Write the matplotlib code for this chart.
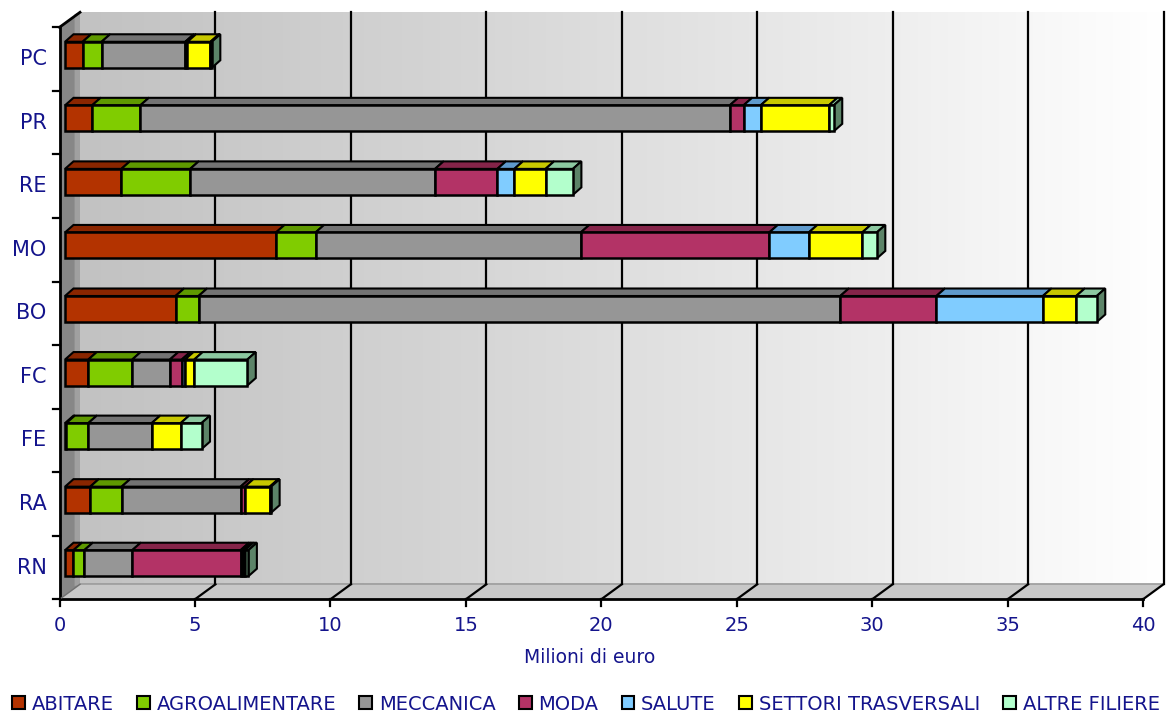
import matplotlib
matplotlib.use("Agg")
import matplotlib.pyplot as plt
import numpy as np
from matplotlib.patches import Polygon, Patch
from matplotlib.colors import LinearSegmentedColormap

# ---------------- data ----------------
categories = ["RN", "RA", "FE", "FC", "BO", "MO", "RE", "PR", "PC"]
series = ["ABITARE", "AGROALIMENTARE", "MECCANICA", "MODA", "SALUTE",
          "SETTORI TRASVERSALI", "ALTRE FILIERE"]
abitare   = [0.31, 0.93, 0.05, 0.86, 4.08, 7.79, 2.08, 1.00, 0.65]
agro      = [0.40, 1.16, 0.81, 1.62, 0.85, 1.46, 2.54, 1.78, 0.70]
meccanica = [1.77, 4.39, 2.34, 1.39, 23.69, 9.79, 9.04, 21.76, 3.09]
moda      = [4.00, 0.16, 0.00, 0.44, 3.55, 6.96, 2.30, 0.51, 0.08]
salute    = [0.08, 0.00, 0.00, 0.12, 3.93, 1.46, 0.63, 0.63, 0.00]
settori   = [0.08, 0.92, 1.07, 0.34, 1.23, 1.97, 1.15, 2.52, 0.85]
altre     = [0.13, 0.05, 0.77, 1.96, 0.76, 0.54, 1.01, 0.18, 0.05]
xticks = [0, 5, 10, 15, 20, 25, 30, 35, 40]
xlabel = "Milioni di euro"

values = [abitare, agro, meccanica, moda, salute, settori, altre]
front_cols = ["#B33300", "#80CC00", "#969696", "#B33366", "#80CCFF", "#FFFF00", "#B3FFCC"]
top_cols   = ["#8A2600", "#5F9900", "#737373", "#852449", "#5F9ACC", "#C8C800", "#8CC8A0"]
side_col = "#5C8468"
txt_col = "#14148C"

# ---------------- figure / axes geometry ----------------
W, H = 1166, 716
fig = plt.figure(figsize=(W / 100, H / 100), dpi=100)
fig.patch.set_facecolor("white")

x_left_px, x_right_px = 59.5, 1143.0
y_top_px, y_bot_px = 27.3, 599.3
ax = fig.add_axes([x_left_px / W, 1 - y_bot_px / H,
                   (x_right_px - x_left_px) / W, (y_bot_px - y_top_px) / H])
ax.set_xlim(0, 40)
ax.set_ylim(-0.5, 8.5)
ax.axis("off")

pxx = 40 / (x_right_px - x_left_px)      # data units per px (x)
pxy = 9 / (y_bot_px - y_top_px)          # data units per px (y)

# depth of the "room" and of the bars
Dx, Dy = 20.5 * pxx, 15 * pxy
fx, fy = 5.5 * pxx, 4.3 * pxy            # bar front-face offset
bx, by = 8.5 * pxx, 7.5 * pxy            # bar depth
bh = 26 * pxy                            # bar height

ybot = -0.5
ytop_back = 8.5 + Dy

# back wall gradient
cmap = LinearSegmentedColormap.from_list("wall", ["#c2c2c2", "#d4d4d4", "#e9e9e9", "#ffffff"])
grad = np.linspace(0, 1, 256).reshape(1, -1)
ax.imshow(grad, cmap=cmap, aspect="auto",
          extent=[Dx, 40 + Dx, ybot + Dy, ytop_back], zorder=0, clip_on=False)

# floor
floor = Polygon([(0, ybot), (40, ybot), (40 + Dx, ybot + Dy), (Dx, ybot + Dy)],
                closed=True, facecolor="#c8c8c8", edgecolor="none", zorder=1, clip_on=False)
ax.add_patch(floor)
ax.plot([Dx, 40 + Dx], [ybot + Dy, ybot + Dy], color="#9a9a9a", lw=1.2, zorder=1.5, clip_on=False)

# side wall
side = Polygon([(0, ybot), (Dx, ybot + Dy), (Dx, ytop_back), (0, 8.5)],
               closed=True, facecolor="#878787", edgecolor="none", zorder=1, clip_on=False)
ax.add_patch(side)
ax.add_patch(Polygon([(Dx - 0.2, ybot + Dy - 0.03), (Dx, ybot + Dy), (Dx, ytop_back), (Dx - 0.2, ytop_back - 0.03)],
                     closed=True, facecolor="#a0a0a0", edgecolor="none", zorder=1.1, clip_on=False))

# grid lines on back wall and floor
for xv in xticks[1:]:
    ax.plot([xv + Dx, xv + Dx], [ybot + Dy, ytop_back], color="black", lw=1.6, zorder=2, clip_on=False)
    ax.plot([xv, xv + Dx], [ybot, ybot + Dy], color="black", lw=1.6, zorder=2, clip_on=False)

# axes lines
ax.plot([0, 0], [ybot, 8.5], color="black", lw=2, zorder=3, clip_on=False)
ax.plot([0, Dx], [8.5, ytop_back], color="black", lw=2, zorder=3, clip_on=False)
ax.plot([0, 40], [ybot, ybot], color="black", lw=2, zorder=3, clip_on=False)
ax.plot([0, Dx], [ybot, ybot + Dy], color="#707070", lw=1, zorder=3, clip_on=False)
for xv in xticks:
    ax.plot([xv, xv], [ybot, ybot - 7 * pxy], color="black", lw=1.6, zorder=3, clip_on=False)
    ax.text(xv, ybot - 26 * pxy, str(xv), ha="center", va="center",
            fontsize=14, color=txt_col, clip_on=False)
for k in range(10):
    yv = -0.5 + k
    ax.plot([0, -7 * pxx], [yv, yv], color="black", lw=1.6, zorder=3, clip_on=False)
for i, c in enumerate(categories):
    ax.text(-13 * pxx, i, c, ha="right", va="center", fontsize=15, color=txt_col, clip_on=False)
ax.text((590 - x_left_px) * pxx, ybot - 58 * pxy, xlabel, ha="center", va="center",
        fontsize=13.5, color=txt_col, clip_on=False)

# ---------------- bars ----------------
ypos = np.arange(len(categories)) + fy
cum = np.zeros(len(categories))
for s, vals in enumerate(values):
    vals = np.array(vals)
    ax.barh(ypos, vals, left=cum + fx, height=bh, color=front_cols[s],
            edgecolor="black", linewidth=1.8, zorder=5, clip_on=False)
    for i in range(len(categories)):
        if vals[i] <= 0:
            continue
        a, b = cum[i] + fx, cum[i] + vals[i] + fx
        yt = ypos[i] + bh / 2
        ax.add_patch(Polygon([(a, yt), (b, yt), (b + bx, yt + by), (a + bx, yt + by)],
                             closed=True, facecolor=top_cols[s], edgecolor="black",
                             linewidth=1.5, zorder=4.5, clip_on=False))
    cum += vals

for i in range(len(categories)):
    T = cum[i] + fx
    yb_, yt_ = ypos[i] - bh / 2, ypos[i] + bh / 2
    ax.add_patch(Polygon([(T, yb_), (T, yt_), (T + bx, yt_ + by), (T + bx, yb_ + by)],
                         closed=True, facecolor=side_col, edgecolor="black",
                         linewidth=1.5, zorder=4.6, clip_on=False))

# ---------------- legend ----------------
handles = [Patch(facecolor=front_cols[s], edgecolor="black", linewidth=1.5) for s in range(len(series))]
leg = fig.legend(handles, series, loc="center", bbox_to_anchor=(586 / W, 1 - 704 / H), ncol=7,
                 frameon=False, fontsize=14, handlelength=0.65, handleheight=0.65,
                 handletextpad=0.35, columnspacing=1.2, borderpad=0)
for t in leg.get_texts():
    t.set_color(txt_col)

fig.savefig("out.png", dpi=100, facecolor="white")
